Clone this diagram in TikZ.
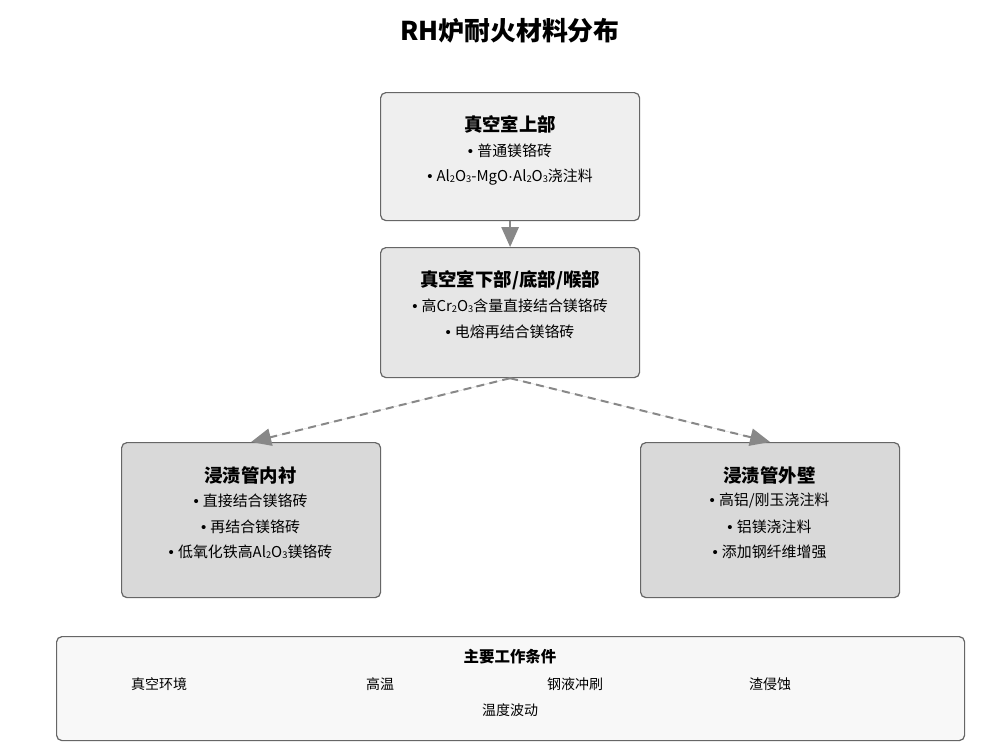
\documentclass[tikz,border=0pt]{standalone}
\usepackage{fontspec}
\setmainfont{Noto Sans CJK SC}
\newfontfamily\latinfont{Liberation Sans}
\usetikzlibrary{arrows.meta}
\definecolor{bordergray}{HTML}{666666}
\definecolor{arrowgray}{HTML}{888888}
\definecolor{fillA}{HTML}{EFEFEF}
\definecolor{fillB}{HTML}{E6E6E6}
\definecolor{fillC}{HTML}{D9D9D9}
\definecolor{fillD}{HTML}{F8F8F8}
\newcommand{\sbs}[1]{\raisebox{-0.15ex}{\fontsize{7}{8}\selectfont #1}}
\newcommand{\bul}{{\latinfont • }}
\newcommand{\mdot}{{\latinfont ·}}
\tikzset{
  x=0.75pt,y=-0.75pt,
  boxbase/.style={draw=bordergray, line width=0.9pt, rounded corners=4pt, inner sep=0pt, anchor=north west},
  boxtitle/.style={font=\fontsize{13.8}{16}\selectfont\bfseries, text=black, inner sep=0pt},
  boxitem/.style={font=\fontsize{11.2}{13}\selectfont, text=black, inner sep=0pt},
  condtitle/.style={font=\fontsize{11.6}{14}\selectfont\bfseries, text=black, inner sep=0pt},
  conditem/.style={font=\fontsize{10.5}{12}\selectfont, text=black, inner sep=0pt},
  solidarrow/.style={draw=arrowgray, line width=1.5pt, -{Triangle[length=15pt,width=13pt]}, fill=arrowgray},
  dasharrow/.style={draw=arrowgray, line width=1.5pt, dash pattern=on 6pt off 4pt, -{Triangle[length=15pt,width=13pt]}, fill=arrowgray},
}
\begin{document}
\begin{tikzpicture}
\useasboundingbox (0,0) rectangle (1000,751);
\fill[white] (0,0) rectangle (1000,751);

\node[font=\fontsize{19.4}{22}\selectfont\bfseries, inner sep=0pt] (title) at (510,31) {RH炉耐火材料分布};

% boxes
\node[boxbase, fill=fillA, minimum width=259*0.75pt, minimum height=128*0.75pt] (b1) at (380,92) {};
\node[boxbase, fill=fillB, minimum width=259*0.75pt, minimum height=130*0.75pt] (b2) at (380,247) {};
\node[boxbase, fill=fillC, minimum width=259*0.75pt, minimum height=155*0.75pt] (b3) at (121,442) {};
\node[boxbase, fill=fillC, minimum width=259*0.75pt, minimum height=155*0.75pt] (b4) at (640,442) {};
\node[boxbase, fill=fillD, minimum width=908*0.75pt, minimum height=104*0.75pt] (b5) at (56,636) {};

% box 1 text
\node[boxtitle] (t1) at (510,124) {真空室上部};
\node[boxitem] (t1a) at (510,151) {\bul 普通镁铬砖};
\node[boxitem] (t1b) at (510,177) {\bul Al\sbs{2}O\sbs{3}-MgO\mdot Al\sbs{2}O\sbs{3}浇注料};

% box 2 text
\node[boxtitle] (t2) at (510,280) {真空室下部/底部/喉部};
\node[boxitem] (t2a) at (510,306) {\bul 高Cr\sbs{2}O\sbs{3}含量直接结合镁铬砖};
\node[boxitem] (t2b) at (510,332) {\bul 电熔再结合镁铬砖};

% box 3 text
\node[boxtitle] (t3) at (250.5,475) {浸渍管内衬};
\node[boxitem] (t3a) at (250.5,501) {\bul 直接结合镁铬砖};
\node[boxitem] (t3b) at (250.5,527) {\bul 再结合镁铬砖};
\node[boxitem] (t3c) at (250.5,552) {\bul 低氧化铁高Al\sbs{2}O\sbs{3}镁铬砖};

% box 4 text
\node[boxtitle] (t4) at (769.5,475) {浸渍管外壁};
\node[boxitem] (t4a) at (769.5,501) {\bul 高铝/刚玉浇注料};
\node[boxitem] (t4b) at (769.5,527) {\bul 铝镁浇注料};
\node[boxitem] (t4c) at (769.5,552) {\bul 添加钢纤维增强};

% conditions
\node[condtitle] (t5) at (510,657) {主要工作条件};
\node[conditem] (c1) at (159,684) {真空环境};
\node[conditem] (c2) at (380,684) {高温};
\node[conditem] (c3) at (575,684) {钢液冲刷};
\node[conditem] (c4) at (770,684) {渣侵蚀};
\node[conditem] (c5) at (510,710) {温度波动};

% connectors
\draw[solidarrow] (b1.south) -- (b2.north);
\draw[dasharrow] (b2.south) -- (b3.north);
\draw[dasharrow] (b2.south) -- (b4.north);
\end{tikzpicture}
\end{document}
